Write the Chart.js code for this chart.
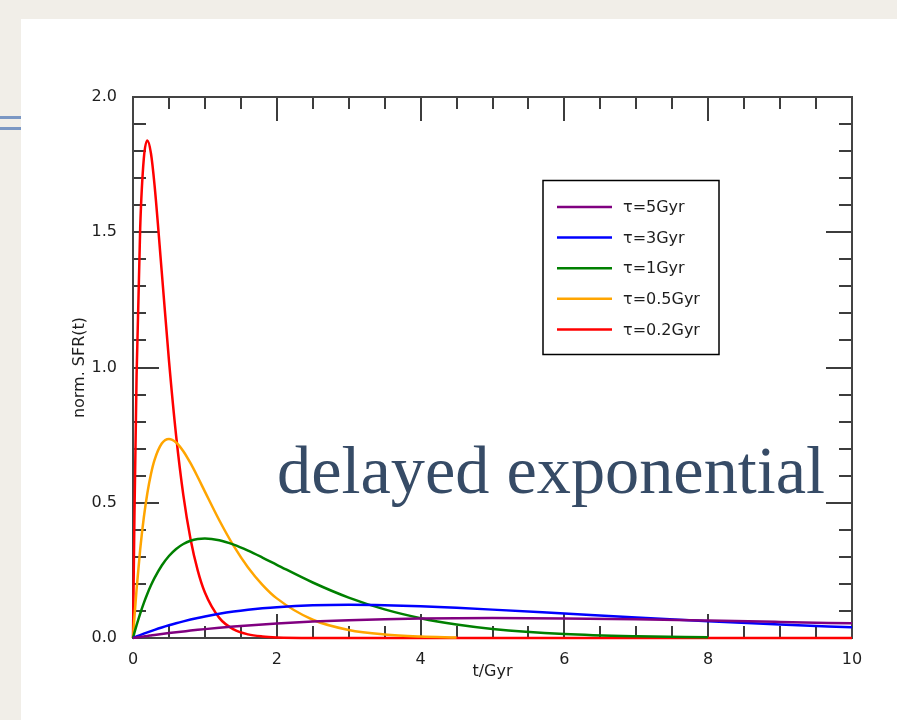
<!DOCTYPE html>
<html>
<head>
<meta charset="utf-8">
<script src="https://cdn.jsdelivr.net/npm/chart.js@4"></script>
<style>
  html, body { margin: 0; padding: 0; width: 897px; height: 720px; overflow: hidden; background: #f1eee8; }
  #panel { position: absolute; left: 21px; top: 19px; width: 876px; height: 701px; background: #fff; }
  .rule { position: absolute; left: 0; width: 21px; height: 3px; background: #7b97c4; }
  #sfrChart { position: absolute; left: 0; top: 0; }
</style>
</head>
<body>
<div id="panel"></div>
<div class="rule" style="top:116px"></div>
<div class="rule" style="top:127px"></div>
<canvas id="sfrChart" width="897" height="720"></canvas>
<script>
// t in Gyr
const t = [0, 0.02, 0.05, 0.1, 0.15, 0.2, 0.25, 0.3, 0.4, 0.5, 0.6, 0.7, 0.8, 0.9, 1.0,
  1.2, 1.4, 1.6, 1.8, 2.0, 2.5, 3.0, 3.5, 4.0, 4.5, 5.0, 6.0, 7.0, 8.0, 9.0, 10.0];

const tau5 = [0, 0.0008, 0.002, 0.0039, 0.0058, 0.0077, 0.0095, 0.0113, 0.0148, 0.0181, 0.0213,
  0.0243, 0.0273, 0.0301, 0.0328, 0.0378, 0.0423, 0.0465, 0.0502, 0.0536, 0.0607, 0.0659,
  0.0695, 0.0719, 0.0732, 0.0736, 0.0723, 0.0691, 0.0646, 0.0595, 0.0541];
const tau3 = [0, 0.0022, 0.0055, 0.0108, 0.0159, 0.0208, 0.0256, 0.0302, 0.0389, 0.047, 0.0546,
  0.0616, 0.0681, 0.0741, 0.0796, 0.0894, 0.0976, 0.1043, 0.1098, 0.1141, 0.1207, 0.1226,
  0.1211, 0.1172, 0.1116, 0.1049, 0.0902, 0.0754, 0.0618, 0.0498, 0.0396];
const tau1 = [0, 0.0196, 0.0476, 0.0905, 0.1291, 0.1637, 0.1947, 0.2222, 0.2681, 0.3033, 0.3293,
  0.3476, 0.3595, 0.3659, 0.3679, 0.3614, 0.3452, 0.323, 0.2975, 0.2707, 0.2052, 0.1494,
  0.1057, 0.0733, 0.05, 0.0337, 0.0149, 0.0064, 0.0027, null, null];
const tau05 = [0, 0.0769, 0.181, 0.3275, 0.4445, 0.5363, 0.6065, 0.6586, 0.7189, 0.7358, 0.7229,
  0.6905, 0.6461, 0.5951, 0.5413, 0.4354, 0.3405, 0.2609, 0.1967, 0.1465, 0.0674, 0.0297,
  0.0128, 0.0054, 0.0022, null, null, null, null, null, null];
const tau02 = [0, 0.4524, 0.9735, 1.516, 1.771, 1.839, 1.791, 1.673, 1.353, 1.026, 0.747,
  0.528, 0.366, 0.25, 0.168, 0.0744, 0.0319, 0.0134, 0.0056, 0.0023, 0.0002, 0,
  0, 0, 0, 0, 0, 0, 0, 0, 0];

const seriesLabels = ['τ=5Gyr', 'τ=3Gyr', 'τ=1Gyr', 'τ=0.5Gyr', 'τ=0.2Gyr'];
const xTickValues = [0, 2, 4, 6, 8, 10];
const yTickValues = [0, 0.5, 1.0, 1.5, 2.0];
const overlayText = 'delayed exponential';

const colors = ['#800080', '#0000ff', '#008000', '#ffa500', '#ff0000'];
const FONT = '"DejaVu Sans", sans-serif';
const TEXT = '#1e1e1e';

const toPoints = (vals) => vals.map((v, i) => ({ x: t[i], y: v }));

// inward ticks on all four sides plus the box
const framePlugin = {
  id: 'frame',
  beforeDatasetsDraw(chart) {
    const { ctx, chartArea: a, scales: { x, y } } = chart;
    ctx.save();
    ctx.strokeStyle = '#3c3c3c';
    ctx.lineWidth = 2;
    ctx.beginPath();
    for (let i = 0; i <= 20; i++) {
      const v = i * 0.5;
      const px = Math.round(x.getPixelForValue(v));
      const len = (v % 2 === 0) ? 24 : 12;
      ctx.moveTo(px, a.bottom); ctx.lineTo(px, a.bottom - len);
      ctx.moveTo(px, a.top); ctx.lineTo(px, a.top + len);
    }
    for (let i = 0; i <= 20; i++) {
      const v = i * 0.1;
      const py = Math.round(y.getPixelForValue(v));
      const len = (i % 5 === 0) ? 26 : 13;
      ctx.moveTo(a.left, py); ctx.lineTo(a.left + len, py);
      ctx.moveTo(a.right, py); ctx.lineTo(a.right - len, py);
    }
    ctx.stroke();
    ctx.strokeStyle = '#444';
    ctx.strokeRect(a.left, a.top, a.right - a.left, a.bottom - a.top);
    ctx.restore();
  }
};

const legendBoxPlugin = {
  id: 'legendBox',
  afterDraw(chart) {
    const { ctx } = chart;
    ctx.save();
    ctx.strokeStyle = '#000';
    ctx.lineWidth = 1.5;
    ctx.strokeRect(543, 180.5, 176, 174);
    ctx.font = '16px ' + FONT;
    ctx.textBaseline = 'middle';
    ctx.fillStyle = TEXT;
    chart.data.datasets.forEach((ds, i) => {
      const yy = 207 + i * 30.6;
      ctx.strokeStyle = ds.borderColor;
      ctx.lineWidth = 2.5;
      ctx.beginPath();
      ctx.moveTo(557, yy); ctx.lineTo(612, yy);
      ctx.stroke();
      ctx.fillText(ds.label, 623, yy + 1);
    });

    // big overlay caption
    ctx.fillStyle = '#364b66';
    ctx.font = '56px "Liberation Serif", serif';
    const w = ctx.measureText(overlayText).width;
    const size = 56 * 548 / w;
    ctx.font = size.toFixed(1) + 'px "Liberation Serif", serif';
    ctx.textBaseline = 'alphabetic';
    ctx.fillText(overlayText, 277, 493);
    ctx.restore();
  }
};

const config = {
  type: 'line',
  data: {
    datasets: [tau5, tau3, tau1, tau05, tau02].map((vals, i) => ({
      label: seriesLabels[i],
      data: toPoints(vals),
      borderColor: colors[i],
      borderWidth: 2.5,
      pointRadius: 0,
      cubicInterpolationMode: 'monotone',
      clip: 4,
      fill: false
    }))
  },
  options: {
    responsive: false,
    animation: false,
    devicePixelRatio: 1,
    layout: { padding: { left: 0, top: 97, right: 45, bottom: 0 } },
    plugins: { legend: { display: false }, tooltip: { enabled: false } },
    scales: {
      x: {
        type: 'linear',
        min: 0,
        max: 10,
        grid: { display: false },
        border: { display: false },
        afterFit: (s) => { s.height = 82; },
        afterBuildTicks: (s) => { s.ticks = xTickValues.map(v => ({ value: v })); },
        ticks: {
          padding: 4,
          color: TEXT,
          font: { family: FONT, size: 16 },
          callback: (v) => String(v)
        },
        title: {
          display: true,
          text: 't/Gyr',
          color: TEXT,
          font: { family: FONT, size: 16 },
          padding: { top: 0, bottom: 39 }
        }
      },
      y: {
        type: 'linear',
        min: 0,
        max: 2,
        grid: { display: false },
        border: { display: false },
        afterFit: (s) => { s.width = 133; },
        afterBuildTicks: (s) => { s.ticks = yTickValues.map(v => ({ value: v })); },
        ticks: {
          padding: 8,
          color: TEXT,
          font: { family: FONT, size: 16 },
          callback: (v) => Number(v).toFixed(1)
        },
        title: {
          display: true,
          text: 'norm. SFR(t)',
          color: TEXT,
          font: { family: FONT, size: 16 },
          padding: { top: 70, bottom: 0 }
        }
      }
    }
  },
  plugins: [framePlugin, legendBoxPlugin]
};

new Chart(document.getElementById('sfrChart'), config);
</script>
</body>
</html>
